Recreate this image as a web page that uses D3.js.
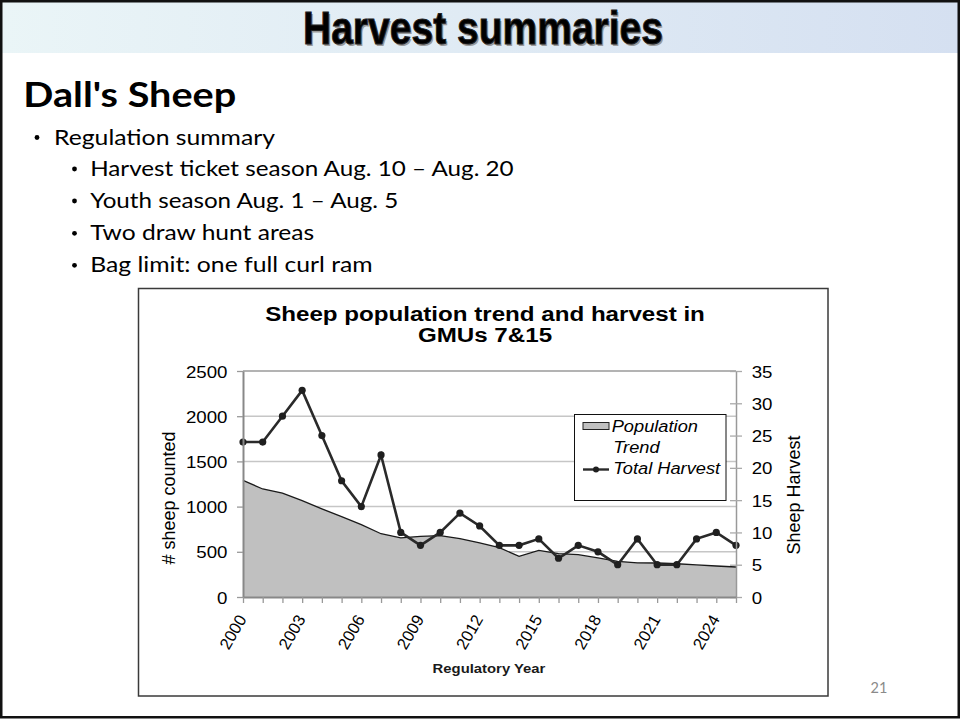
<!DOCTYPE html>
<html><head><meta charset="utf-8">
<script src="https://cdn.jsdelivr.net/npm/d3@7"></script>
<style>html,body{margin:0;padding:0;background:#fff;}svg{display:block;}</style>
</head><body>
<svg id="c" width="961" height="719"></svg>
<script>
// ---- data ----
const years = [2000,2001,2002,2003,2004,2005,2006,2007,2008,2009,2010,2011,2012,2013,2014,2015,2016,2017,2018,2019,2020,2021,2022,2023,2024,2025];
const population = [1290,1195,1150,1065,975,890,800,700,655,670,680,645,600,545,450,515,480,468,432,395,378,376,368,355,343,332];
const harvest = [24,24,28,32,25,18,14,22,10,8,10,13,11,8,8,9,6,8,7,5,9,5,5,9,10,8];
const leftTicks = [0,500,1000,1500,2000,2500];
const rightTicks = [0,5,10,15,20,25,30,35];
const labelYears = [2000,2003,2006,2009,2012,2015,2018,2021,2024];
const chartTitle = ["Sheep population trend and harvest in","GMUs 7&15"];
const legendLabels = ["Population","Trend","Total Harvest"];
const slideTitle = "Harvest summaries";
const slideHeading = "Dall's Sheep";
const bulletTexts = ["Regulation summary","Harvest ticket season Aug. 10 \u2013 Aug. 20","Youth season Aug. 1 \u2013 Aug. 5","Two draw hunt areas","Bag limit: one full curl ram"];
const bulletLevels = [0,1,1,1,1];
const bulletWidths = [221,423.5,308,224,282.5];

const svg = d3.select("#c");

// ---- slide ----
const defs = svg.append("defs");
const grad = defs.append("linearGradient").attr("id","hdr").attr("x1","0").attr("x2","1").attr("y1","0").attr("y2","0");
grad.append("stop").attr("offset","0").attr("stop-color","#eaf5f7");
grad.append("stop").attr("offset","1").attr("stop-color","#d5e0f1");
svg.append("rect").attr("x",2).attr("y",2).attr("width",956).attr("height",51).attr("fill","url(#hdr)");
svg.append("rect").attr("x",1.25).attr("y",1.25).attr("width",957.5).attr("height",716).attr("fill","none").attr("stroke","#111").attr("stroke-width",2.5);

const tFont = "'Liberation Sans Narrow','Liberation Sans',Arial,sans-serif";
svg.append("text").attr("x",484.5).attr("y",45.5).attr("text-anchor","middle")
  .attr("font-family",tFont).attr("font-weight","bold").attr("font-size",47)
  .attr("textLength",360).attr("lengthAdjust","spacingAndGlyphs")
  .attr("fill","#9a9a9a").text(slideTitle);
svg.append("text").attr("x",483).attr("y",44.3).attr("text-anchor","middle")
  .attr("font-family",tFont).attr("font-weight","bold").attr("font-size",47)
  .attr("textLength",360).attr("lengthAdjust","spacingAndGlyphs")
  .attr("fill","#000").attr("stroke","#222").attr("stroke-width",1).text(slideTitle);

const sFont = "Lato,'Open Sans',sans-serif";
svg.append("text").attr("x",23.3).attr("y",106.5).attr("font-family",sFont).attr("font-weight","bold")
  .attr("font-size",34).attr("textLength",213).attr("lengthAdjust","spacingAndGlyphs").attr("fill","#000").text(slideHeading);

const bulletBase = [144.5,176,208,240.3,272.3];
bulletTexts.forEach((t,i)=>{
  const lvl = bulletLevels[i];
  const bx = lvl===0 ? 37 : 74.5;
  const tx = lvl===0 ? 54 : 90.2;
  svg.append("circle").attr("cx",bx).attr("cy",bulletBase[i]-7).attr("r",2.4).attr("fill","#000");
  svg.append("text").attr("x",tx).attr("y",bulletBase[i]).attr("font-family",sFont).attr("font-size",20.5)
    .attr("textLength",bulletWidths[i]).attr("lengthAdjust","spacingAndGlyphs").attr("fill","#000").text(t);
});

svg.append("text").attr("x",879).attr("y",693).attr("text-anchor","middle").attr("font-family",sFont)
  .attr("font-size",14.5).attr("fill","#8a8a8a").text("21");

// ---- chart frame ----
svg.append("rect").attr("x",138.5).attr("y",288.5).attr("width",689.5).attr("height",407.5)
  .attr("fill","#fff").attr("stroke","#3a3a3a").attr("stroke-width",1.5);

const cFont = "'Liberation Sans',Arial,sans-serif";
const L = 243, R = 736, T = 371, B = 597;
const x = d3.scalePoint().domain(years).range([L,R]);
const yL = d3.scaleLinear().domain([0,2500]).range([B,T]);
const yR = d3.scaleLinear().domain([0,35]).range([B,T]);

// title
chartTitle.forEach((t,i)=>{
  svg.append("text").attr("transform",`translate(485,${i===0?320.5:342}) scale(1.15,1)`)
    .attr("text-anchor","middle").attr("font-family",cFont).attr("font-weight","bold")
    .attr("font-size",21).attr("fill","#000").text(t);
});

// gridlines
svg.append("g").selectAll("line").data(leftTicks.filter(d=>d>0)).join("line")
  .attr("x1",L).attr("x2",R).attr("y1",d=>yL(d)).attr("y2",d=>yL(d))
  .attr("stroke",d=>d===2500?"#9a9a9a":"#c6c6c6").attr("stroke-width",1.5);

// area
const pd = years.map((y,i)=>({y,v:population[i]}));
svg.append("path").datum(pd)
  .attr("d",d3.area().x(d=>x(d.y)).y0(B).y1(d=>yL(d.v)))
  .attr("fill","#c0c0c0");
svg.append("path").datum(pd)
  .attr("d",d3.line().x(d=>x(d.y)).y(d=>yL(d.v)))
  .attr("fill","none").attr("stroke","#1a1a1a").attr("stroke-width",1.3);

// harvest line
const hd = years.map((y,i)=>({y,v:harvest[i]}));
svg.append("path").datum(hd).attr("d",d3.line().x(d=>x(d.y)).y(d=>yR(d.v)))
  .attr("fill","none").attr("stroke","#2a2a2a").attr("stroke-width",2.6).attr("stroke-linejoin","miter");
svg.append("g").selectAll("circle").data(hd).join("circle")
  .attr("cx",d=>x(d.y)).attr("cy",d=>yR(d.v)).attr("r",3.6).attr("fill","#1f1f1f");

// axes
const axL = svg.append("g").attr("transform",`translate(${L},0)`)
  .call(d3.axisLeft(yL).tickValues(leftTicks).tickFormat(d3.format("d")).tickSize(6).tickSizeOuter(0));
axL.select(".domain").attr("stroke","#888").attr("stroke-width",2);
axL.selectAll(".tick line").attr("stroke","#999").attr("stroke-width",1.3);
axL.selectAll(".tick text").attr("x",null).attr("dy","0.36em")
  .attr("transform","translate(-15.5,0) scale(1.1,1)")
  .attr("font-family",cFont).attr("font-size",17).attr("fill","#000");

const axR = svg.append("g").attr("transform",`translate(${R},0)`)
  .call(d3.axisRight(yR).tickValues(rightTicks).tickFormat(d3.format("d")).tickSize(6).tickSizeOuter(0));
axR.select(".domain").attr("stroke","#999").attr("stroke-width",1.5);
axR.selectAll(".tick line").attr("x1",-6).attr("x2",6).attr("stroke","#aaa").attr("stroke-width",1.3);
axR.selectAll(".tick text").attr("x",null).attr("dy","0.36em")
  .attr("transform","translate(15.7,0) scale(1.1,1)")
  .attr("font-family",cFont).attr("font-size",17).attr("fill","#000");

const axB = svg.append("g").attr("transform",`translate(0,${B})`)
  .call(d3.axisBottom(x).tickValues(years).tickSize(6).tickSizeOuter(0)
    .tickFormat(d=>labelYears.includes(d)?String(d):""));
axB.select(".domain").attr("stroke","#888").attr("stroke-width",2);
axB.selectAll(".tick line").attr("stroke","#999").attr("stroke-width",1.3);
axB.selectAll(".tick text").attr("y",null).attr("dy",null)
  .attr("transform","translate(3.5,22) rotate(-60)").attr("text-anchor","end")
  .attr("font-family",cFont).attr("font-size",16.5).attr("fill","#000");

// axis titles
svg.append("text").attr("transform","translate(175,498) rotate(-90)").attr("text-anchor","middle")
  .attr("font-family",cFont).attr("font-size",18).attr("fill","#000").text("# sheep counted");
svg.append("text").attr("transform","translate(800,495) rotate(-90)").attr("text-anchor","middle")
  .attr("font-family",cFont).attr("font-size",18).attr("fill","#000").text("Sheep Harvest");
svg.append("text").attr("transform","translate(489,673) scale(1.1,1)").attr("text-anchor","middle")
  .attr("font-family",cFont).attr("font-weight","bold").attr("font-size",13.5).attr("fill","#1a1a1a").text("Regulatory Year");

// legend
const lg = svg.append("g");
lg.append("rect").attr("x",574.5).attr("y",414.5).attr("width",151.5).attr("height",86)
  .attr("fill","#fff").attr("stroke","#111").attr("stroke-width",1);
lg.append("rect").attr("x",583).attr("y",422.5).attr("width",26).attr("height",7)
  .attr("fill","#c0c0c0").attr("stroke","#222").attr("stroke-width",1);
lg.append("line").attr("x1",583).attr("x2",609).attr("y1",469.5).attr("y2",469.5).attr("stroke","#2a2a2a").attr("stroke-width",2.4);
lg.append("circle").attr("cx",596).attr("cy",469.5).attr("r",3).attr("fill","#1f1f1f");
const lpos = [[611.7,431.5],[613.3,452.7],[613.3,474.3]];
legendLabels.forEach((t,i)=>{
  lg.append("text").attr("transform",`translate(${lpos[i][0]},${lpos[i][1]}) scale(1.12,1)`)
    .attr("font-family",cFont).attr("font-style","italic").attr("font-size",16.3).attr("fill","#000").text(t);
});
</script>
</body></html>
